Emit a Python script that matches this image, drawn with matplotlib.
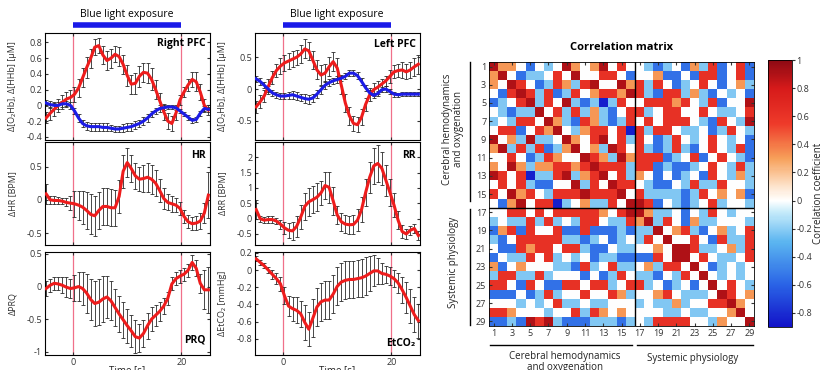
import numpy as np
import matplotlib.pyplot as plt
import matplotlib.transforms as mtransforms
from matplotlib.colors import LinearSegmentedColormap, Normalize
from matplotlib.ticker import FuncFormatter

plt.rcParams['font.family'] = ['Open Sans', 'DejaVu Sans']

# time axis, 0.75 s samples from -5 to 25 s
t = np.arange(-5, 25.01, 0.75)

rpfc_o2 = [-0.16, -0.10, -0.05, 0.00, 0.04, 0.08, 0.10, 0.14, 0.22, 0.35, 0.48, 0.60, 0.74, 0.76,
           0.64, 0.57, 0.60, 0.65, 0.62, 0.52, 0.38, 0.27, 0.28, 0.37, 0.42, 0.41, 0.33, 0.20,
           0.06, -0.08, -0.20, -0.23, -0.10, 0.07, 0.17, 0.26, 0.33, 0.30, 0.17, 0.00, -0.06]
rpfc_o2_err = [0.07, 0.08, 0.08, 0.08, 0.09, 0.09, 0.10, 0.10, 0.11, 0.12, 0.13, 0.12, 0.10, 0.10,
               0.11, 0.12, 0.12, 0.10, 0.12, 0.12, 0.13, 0.12, 0.13, 0.13, 0.12, 0.13, 0.14, 0.12,
               0.10, 0.10, 0.10, 0.10, 0.08, 0.06, 0.06, 0.08, 0.10, 0.12, 0.10, 0.08, 0.06]
rpfc_hhb = [0.03, 0.01, 0.00, 0.00, 0.02, 0.02, 0.00, -0.07, -0.16, -0.23, -0.26, -0.27, -0.27, -0.27,
            -0.28, -0.28, -0.29, -0.30, -0.30, -0.29, -0.28, -0.27, -0.25, -0.23, -0.20, -0.16, -0.11, -0.07,
            -0.04, -0.03, -0.02, -0.02, -0.03, -0.07, -0.11, -0.15, -0.19, -0.18, -0.10, -0.04, -0.05]
rpfc_hhb_err = [0.04, 0.04, 0.04, 0.04, 0.04, 0.04, 0.04, 0.04, 0.05, 0.05, 0.05, 0.05, 0.05, 0.05,
                0.05, 0.05, 0.04, 0.04, 0.04, 0.05, 0.05, 0.05, 0.05, 0.05, 0.05, 0.05, 0.04, 0.04,
                0.04, 0.03, 0.03, 0.03, 0.03, 0.03, 0.03, 0.03, 0.03, 0.03, 0.03, 0.03, 0.03]

lpfc_o2 = [-0.28, -0.20, -0.11, 0.04, 0.18, 0.29, 0.36, 0.41, 0.44, 0.47, 0.50, 0.55, 0.63, 0.60,
           0.45, 0.30, 0.22, 0.25, 0.35, 0.43, 0.33, 0.06, -0.22, -0.42, -0.54, -0.56, -0.44, -0.24,
           -0.09, -0.01, 0.03, 0.08, 0.13, 0.20, 0.27, 0.29, 0.30, 0.27, 0.30, 0.35, 0.39]
lpfc_o2_err = [0.10, 0.10, 0.10, 0.12, 0.10, 0.10, 0.12, 0.12, 0.12, 0.12, 0.12, 0.14, 0.15, 0.14,
               0.14, 0.15, 0.15, 0.14, 0.15, 0.15, 0.15, 0.14, 0.14, 0.14, 0.12, 0.12, 0.12, 0.10,
               0.10, 0.10, 0.10, 0.08, 0.08, 0.10, 0.10, 0.10, 0.12, 0.12, 0.12, 0.14, 0.15]
lpfc_hhb = [0.16, 0.12, 0.06, 0.00, -0.06, -0.09, -0.11, -0.11, -0.10, -0.09, -0.11, -0.13, -0.15, -0.16,
            -0.14, -0.08, -0.01, 0.06, 0.10, 0.13, 0.15, 0.17, 0.20, 0.25, 0.25, 0.21, 0.12, 0.02,
            -0.06, -0.10, -0.07, -0.01, 0.00, -0.04, -0.08, -0.09, -0.08, -0.08, -0.08, -0.08, -0.08]
lpfc_hhb_err = [0.05, 0.05, 0.05, 0.05, 0.05, 0.05, 0.05, 0.05, 0.06, 0.06, 0.06, 0.06, 0.07, 0.07,
                0.07, 0.06, 0.06, 0.06, 0.05, 0.05, 0.05, 0.05, 0.05, 0.05, 0.05, 0.05, 0.05, 0.05,
                0.04, 0.04, 0.04, 0.04, 0.04, 0.04, 0.04, 0.03, 0.03, 0.03, 0.03, 0.03, 0.03]

hr = [0.09, 0.00, -0.01, -0.01, -0.02, -0.04, -0.05, -0.06, -0.08, -0.11, -0.16, -0.22, -0.24, -0.16,
      -0.10, -0.10, -0.12, -0.12, 0.05, 0.43, 0.56, 0.47, 0.36, 0.31, 0.32, 0.34, 0.31, 0.25,
      0.14, 0.02, -0.04, -0.06, -0.08, -0.13, -0.25, -0.33, -0.36, -0.35, -0.32, -0.20, 0.07]
hr_err = [0.15, 0.06, 0.06, 0.05, 0.05, 0.06, 0.10, 0.20, 0.22, 0.25, 0.28, 0.30, 0.30, 0.28,
          0.28, 0.28, 0.28, 0.27, 0.25, 0.25, 0.22, 0.20, 0.20, 0.18, 0.20, 0.22, 0.22, 0.20,
          0.18, 0.16, 0.12, 0.12, 0.10, 0.10, 0.10, 0.10, 0.10, 0.10, 0.12, 0.15, 0.35]

rr = [0.30, 0.00, -0.05, -0.03, -0.03, -0.08, -0.18, -0.30, -0.38, -0.40, -0.25, 0.05, 0.40, 0.55,
      0.62, 0.70, 0.84, 1.08, 1.02, 0.58, 0.12, -0.10, -0.18, -0.20, -0.19, -0.05, 0.30, 0.85,
      1.35, 1.72, 1.80, 1.64, 1.25, 0.85, 0.44, -0.05, -0.42, -0.50, -0.38, -0.32, -0.55]
rr_err = [0.30, 0.10, 0.10, 0.10, 0.10, 0.10, 0.15, 0.20, 0.25, 0.30, 0.35, 0.40, 0.45, 0.45,
          0.45, 0.45, 0.40, 0.45, 0.50, 0.45, 0.30, 0.30, 0.30, 0.30, 0.30, 0.35, 0.40, 0.45,
          0.50, 0.60, 0.60, 0.55, 0.50, 0.45, 0.40, 0.30, 0.20, 0.15, 0.15, 0.15, 0.15]

prq = [-0.03, 0.02, 0.05, 0.04, 0.02, -0.01, -0.03, -0.02, 0.00, -0.03, -0.10, -0.20, -0.26, -0.24,
       -0.19, -0.16, -0.22, -0.32, -0.42, -0.51, -0.60, -0.68, -0.77, -0.79, -0.72, -0.60, -0.50, -0.44,
       -0.38, -0.30, -0.18, 0.04, 0.12, 0.16, 0.19, 0.25, 0.37, 0.28, 0.05, -0.05, -0.05]
prq_err = [0.12, 0.10, 0.10, 0.10, 0.12, 0.15, 0.15, 0.20, 0.22, 0.25, 0.30, 0.32, 0.35, 0.35,
           0.35, 0.32, 0.30, 0.28, 0.28, 0.28, 0.26, 0.25, 0.25, 0.22, 0.20, 0.20, 0.18, 0.16,
           0.15, 0.12, 0.10, 0.10, 0.10, 0.10, 0.10, 0.10, 0.12, 0.12, 0.15, 0.30, 0.35]

etco2 = [0.13, 0.09, 0.05, 0.00, -0.05, -0.10, -0.16, -0.30, -0.42, -0.45, -0.47, -0.51, -0.61, -0.69,
         -0.56, -0.43, -0.37, -0.35, -0.35, -0.28, -0.19, -0.14, -0.12, -0.11, -0.11, -0.10, -0.09, -0.07,
         -0.04, -0.01, -0.01, -0.04, -0.05, -0.07, -0.10, -0.15, -0.23, -0.32, -0.42, -0.52, -0.59]
etco2_err = [0.03, 0.03, 0.03, 0.04, 0.05, 0.06, 0.08, 0.10, 0.12, 0.14, 0.15, 0.15, 0.20, 0.20,
             0.22, 0.22, 0.22, 0.22, 0.22, 0.22, 0.22, 0.22, 0.22, 0.22, 0.22, 0.22, 0.22, 0.22,
             0.20, 0.18, 0.15, 0.12, 0.10, 0.10, 0.10, 0.12, 0.15, 0.18, 0.20, 0.20, 0.20]

# correlation matrix, coarse colour levels read per cell
corr_levels = {'D': 0.9, 'R': 0.62, 'O': 0.32, 'W': 0.0, 'L': -0.22, 'B': -0.55, 'N': -0.85}
corr_rows = [
    "D O O W B W L W D O W O D W R W  W L B L W B O L R B W R B",
    "O D W B L L W R W D W W R R W B  W W O B B W B R R B W R B",
    "O W D R W B L R O L R D W W D O  R L R W B L W R W B W O L",
    "W B R D R L R B L R W O R R O D  R L B R R L O L B W L W B",
    "N L L R D L R W D L B L N L R W  W R R R O R W L R B W W D",
    "W B B L L D W R L R L O L B W R  R L W R R W W R W L L W R",
    "L W B R R W D O L B R O L B L R  W R W R R R W L B R W L D",
    "W R L B W R O D W L O R R W R N  R L R R W L L W B L R W L",
    "D O R L D L L W D O W R D W R L  R W B L R W L W R W L W B",
    "O D L R L R B L O D W O L D R W  R L B L R L B W R W L R B",
    "R W R W B L R O W W D R O L D O  R R R B L W R B W R W L B",
    "L R D O L O O R R O R D R R R L  R R B L B B L W R W L R L",
    "D O R R N L L R D L O R D W R L  O W B W B L W B R W L O L",
    "W R O R L B B W W D L R W D R R  W L B B W L R L L R W W L",
    "R W D O R W L R R R D R R R D W  R L L L L B L R W O W O B",
    "W B O D W R R N L W O L L R W D  D R B W L B L W R L W W L",
    "W L W R W R W L W O W L O W R D  D O L L W B W L R W L W W",
    "W W L R W L W W R R W W L W R R  O D L R W B O L L W W W L",
    "L O L L R L R R W O B B L L L L  L L D W O R L B W O L W R",
    "B B W R R R R R B B L B B W L R  L R W D W W R W B R L L R",
    "L W B L R W R L B L B B W B L R  W W O W D D R L L W O L R",
    "L L B L O W R R W L B B L B L L  B B R W D D W R W L L W R",
    "B W W R W L W L W W W R W O L W  W O L R R W D W B L W L W",
    "R O R W B W L W R L R R W R W L  L L B W L R W D W L W L W",
    "R R W L R L W O R R O W R R L W  W W W B L W B W D W R W L",
    "L L R R R L W L W B L L B L B W  W W O R W L L L W D R W O",
    "L R W L W O W L O W W W L W L W  L W L L O L W W R R D O W",
    "R L O R R W W R W L O R L R O W  W W W L L W L L W W O D W",
    "B L L W D O R W L B W B L B N W  W L R R R R R L B L W W D",
]
corr_ticks = list(range(1, 30, 2))
cbar_ticks = [1, 0.8, 0.6, 0.4, 0.2, 0, -0.2, -0.4, -0.6, -0.8]

cmap_vals = [-0.9, -0.6, -0.3, -0.08, 0.0, 0.1, 0.3, 0.55, 0.8, 1.0]
cmap_cols = ['#1212c8', '#2a64e6', '#5ab4f0', '#c8ecfa', '#ffffff', '#fde4cc',
             '#f7a05a', '#ee3a2a', '#d61a1a', '#8c0a14']

RED = '#ee1c1c'
BLUE = '#1c1ce6'
PINK = '#f0708a'

fig = plt.figure(figsize=(8.23, 3.70), dpi=100)

W, H = 823.0, 370.0


def px_axes(x0, y0, x1, y1):
    return fig.add_axes([x0 / W, 1 - y1 / H, (x1 - x0) / W, (y1 - y0) / H])


fmt = FuncFormatter(lambda v, p: '%g' % v)


def draw_panel(ax, series, ylim, yticks, ylabel, name, name_y, bottom):
    for y, e, c in series:
        ax.errorbar(t, y, yerr=e, fmt='none', ecolor='#2a2a2a', elinewidth=0.6,
                    capsize=1.3, capthick=0.6, zorder=2)
    for y, e, c in series:
        ax.plot(t, y, color=c, lw=2.2, zorder=3)
    ax.axvline(0, color=PINK, lw=0.9, zorder=1)
    ax.axvline(20, color=PINK, lw=0.9, zorder=1)
    ax.set_xlim(-5.2, 25.3)
    ax.set_ylim(*ylim)
    ax.set_yticks(yticks)
    ax.yaxis.set_major_formatter(fmt)
    ax.set_xticks([0, 20])
    ax.tick_params(direction='in', length=2.5, labelsize=6.5, colors='#333333',
                   top=True, right=True, pad=2)
    if bottom:
        ax.set_xticklabels(['0', '20'])
        ax.set_xlabel('Time [s]', fontsize=7, labelpad=-1, color='#222222')
    else:
        ax.set_xticklabels([])
    ax.set_ylabel(ylabel, fontsize=6.5, color='#333333')
    ax.yaxis.set_label_coords(-0.17, 0.5)
    for s in ax.spines.values():
        s.set_linewidth(0.8)
    ax.text(0.972, name_y, name, transform=ax.transAxes, ha='right', va='center',
            fontsize=7.5, fontweight='bold')


def exposure_bar(ax):
    tr = mtransforms.blended_transform_factory(ax.transData, ax.transAxes)
    ax.plot([0, 20], [1.075, 1.075], transform=tr, clip_on=False, lw=4,
            color='#1a1ae8', solid_capstyle='butt')
    ax.text(10, 1.175, 'Blue light exposure', transform=tr, ha='center', va='center',
            fontsize=7.5)


ax_rp = px_axes(45, 33, 210, 140)
ax_hr = px_axes(45, 142, 210, 245)
ax_prq = px_axes(45, 252, 210, 355)
ax_lp = px_axes(255, 33, 420, 140)
ax_rr = px_axes(255, 142, 420, 245)
ax_et = px_axes(255, 252, 420, 355)

draw_panel(ax_rp, [(rpfc_o2, rpfc_o2_err, RED), (rpfc_hhb, rpfc_hhb_err, BLUE)],
           (-0.44, 0.92), [-0.4, -0.2, 0, 0.2, 0.4, 0.6, 0.8],
           'Δ[O₂Hb], Δ[HHb] [μM]', 'Right PFC', 0.905, False)
draw_panel(ax_hr, [(hr, hr_err, RED)], (-0.68, 0.87), [-0.5, 0, 0.5],
           'ΔHR [BPM]', 'HR', 0.87, False)
draw_panel(ax_prq, [(prq, prq_err, RED)], (-1.05, 0.53), [-1, -0.5, 0, 0.5],
           'ΔPRQ', 'PRQ', 0.15, True)
draw_panel(ax_lp, [(lpfc_o2, lpfc_o2_err, RED), (lpfc_hhb, lpfc_hhb_err, BLUE)],
           (-0.8, 0.88), [-0.5, 0, 0.5],
           'Δ[O₂Hb], Δ[HHb] [μM]', 'Left PFC', 0.89, False)
draw_panel(ax_rr, [(rr, rr_err, RED)], (-0.86, 2.5), [-0.5, 0, 0.5, 1, 1.5, 2],
           'ΔRR [BPM]', 'RR', 0.87, False)
draw_panel(ax_et, [(etco2, etco2_err, RED)], (-0.99, 0.21), [-0.8, -0.6, -0.4, -0.2, 0, 0.2],
           'ΔEtCO₂ [mmHg]', 'EtCO₂', 0.11, True)
exposure_bar(ax_rp)
exposure_bar(ax_lp)

# correlation matrix
M = np.array([[corr_levels[c] for c in r.split()] for r in corr_rows])
assert M.shape == (29, 29)
M = np.triu(M) + np.triu(M, 1).T

cmap = LinearSegmentedColormap.from_list(
    'corr', [((v - cmap_vals[0]) / (cmap_vals[-1] - cmap_vals[0]), c)
             for v, c in zip(cmap_vals, cmap_cols)])
norm = Normalize(vmin=cmap_vals[0], vmax=cmap_vals[-1])

axm = px_axes(489, 62, 754, 326)
im = axm.imshow(M, cmap=cmap, norm=norm, interpolation='nearest', aspect='auto',
                extent=(0.5, 29.5, 29.5, 0.5))
axm.axvline(16.5, color='k', lw=1.0)
axm.axhline(16.5, color='k', lw=1.0)
axm.set_xticks(corr_ticks)
axm.set_yticks(corr_ticks)
axm.tick_params(direction='in', length=2, labelsize=6.5, colors='#333333',
                top=True, right=True, pad=2)
for s in axm.spines.values():
    s.set_linewidth(0.6)
axm.set_title('Correlation matrix', fontsize=8, fontweight='bold', pad=9)

# group brackets
kw = dict(color='k', lw=1.0, clip_on=False, scalex=False, scaley=False)
axm.plot([-1.6, -1.6], [0.5, 15.8], **kw)
axm.plot([-1.6, -1.6], [16.7, 29.4], **kw)
axm.plot([0.6, 16.1], [31.6, 31.6], **kw)
axm.plot([16.7, 29.4], [31.6, 31.6], **kw)
axm.set_xlim(0.5, 29.5)
axm.set_ylim(29.5, 0.5)
axm.text(-3.4, 7.9, 'Cerebral hemodynamics\nand oxygenation', rotation=90,
         ha='center', va='center', fontsize=7, linespacing=1.0, color='#222222')
axm.text(-3.4, 22.5, 'Systemic physiology', rotation=90, ha='center', va='center',
         fontsize=7, color='#222222')
axm.text(8.8, 32.2, 'Cerebral hemodynamics\nand oxygenation', ha='center', va='top',
         fontsize=7, linespacing=1.0, color='#222222')
axm.text(22.8, 33.1, 'Systemic physiology', ha='center', va='center',
         fontsize=7, color='#222222')

cax = px_axes(768, 60, 792, 327)
cb = fig.colorbar(im, cax=cax, ticks=cbar_ticks)
cb.ax.set_yticklabels(['%g' % v for v in cbar_ticks])
cb.ax.tick_params(labelsize=6.5, length=2, pad=1, colors='#333333')
cb.outline.set_linewidth(0.6)
cb.set_label('Correlation coefficient', fontsize=7, labelpad=1, color='#222222')

fig.savefig('out.png', dpi=100)
